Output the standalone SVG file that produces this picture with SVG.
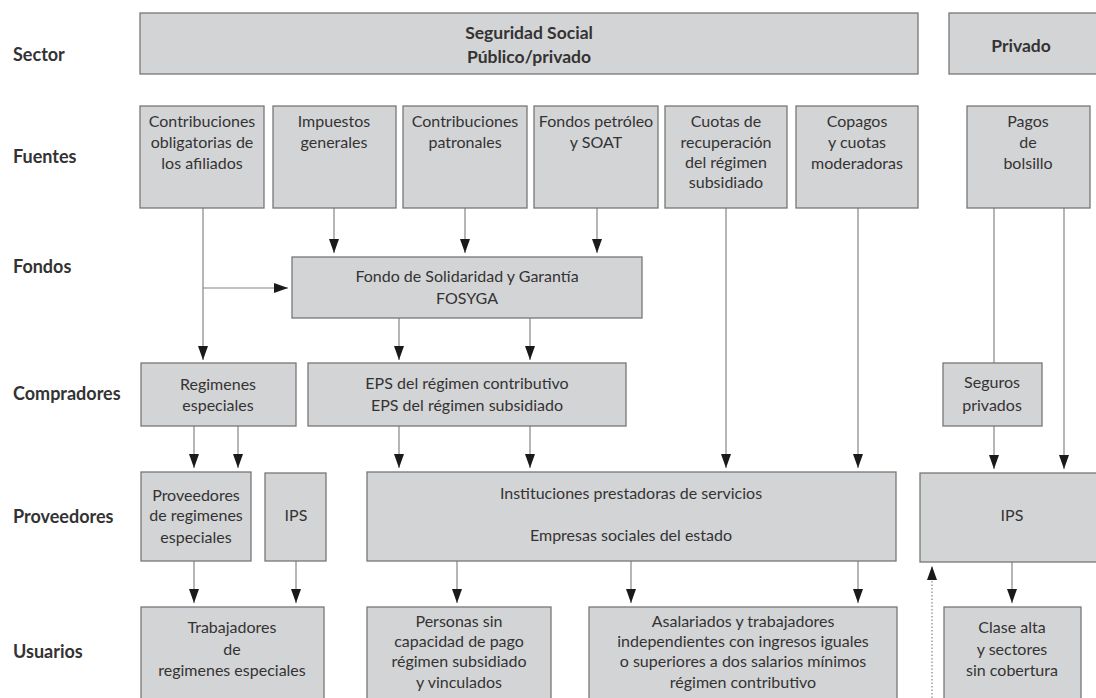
<svg xmlns="http://www.w3.org/2000/svg" width="1096" height="698" viewBox="0 0 1096 698">
<style>
.box{fill:#d3d4d6;stroke:#777777;stroke-width:1.3}
.t{font-family:Lato,"Open Sans","Liberation Sans",sans-serif;font-size:16px;fill:#333333;text-anchor:middle}
.h{font-family:Lato,"Open Sans","Liberation Sans",sans-serif;font-size:17.5px;font-weight:bold;fill:#333333;text-anchor:middle}
.lab{font-family:Lato,"Open Sans","Liberation Sans",sans-serif;font-size:18px;font-weight:bold;fill:#333333}
.c{stroke:#858585;stroke-width:1.2;fill:none}
.d{stroke:#858585;stroke-width:1.2;fill:none;stroke-dasharray:1.5 2}
</style>
<defs>
<marker id="ah" viewBox="0 0 14 10" refX="14" refY="5" markerWidth="14" markerHeight="10" markerUnits="userSpaceOnUse" orient="auto">
<path d="M0,0 L14,5 L0,10 z" fill="#1a1a1a"/>
</marker>
</defs>
<rect width="1096" height="698" fill="#ffffff"/>

<g id="row-labels">
<text class="lab" x="13" y="61">Sector</text>
<text class="lab" x="13" y="163">Fuentes</text>
<text class="lab" x="13" y="273">Fondos</text>
<text class="lab" x="13" y="400">Compradores</text>
<text class="lab" x="13" y="523">Proveedores</text>
<text class="lab" x="13" y="658">Usuarios</text>
</g>

<g id="connectors">
<line class="c" x1="203" y1="208" x2="203" y2="360" marker-end="url(#ah)"/>
<line class="c" x1="203" y1="288" x2="288" y2="288" marker-end="url(#ah)"/>
<line class="c" x1="334" y1="208" x2="334" y2="253" marker-end="url(#ah)"/>
<line class="c" x1="465" y1="208" x2="465" y2="253" marker-end="url(#ah)"/>
<line class="c" x1="597" y1="208" x2="597" y2="253" marker-end="url(#ah)"/>
<line class="c" x1="399" y1="318" x2="399" y2="360" marker-end="url(#ah)"/>
<line class="c" x1="530" y1="318" x2="530" y2="360" marker-end="url(#ah)"/>
<line class="c" x1="726" y1="208" x2="726" y2="468" marker-end="url(#ah)"/>
<line class="c" x1="858" y1="208" x2="858" y2="468" marker-end="url(#ah)"/>
<line class="c" x1="994" y1="208" x2="994" y2="363"/>
<line class="c" x1="994" y1="426" x2="994" y2="469" marker-end="url(#ah)"/>
<line class="c" x1="1064" y1="208" x2="1064" y2="469" marker-end="url(#ah)"/>
<line class="c" x1="194" y1="426" x2="194" y2="468" marker-end="url(#ah)"/>
<line class="c" x1="238" y1="426" x2="238" y2="468" marker-end="url(#ah)"/>
<line class="c" x1="399" y1="426" x2="399" y2="468" marker-end="url(#ah)"/>
<line class="c" x1="530" y1="426" x2="530" y2="468" marker-end="url(#ah)"/>
<line class="c" x1="194" y1="561" x2="194" y2="603" marker-end="url(#ah)"/>
<line class="c" x1="296" y1="561" x2="296" y2="603" marker-end="url(#ah)"/>
<line class="c" x1="457" y1="561" x2="457" y2="603" marker-end="url(#ah)"/>
<line class="c" x1="631" y1="561" x2="631" y2="603" marker-end="url(#ah)"/>
<line class="c" x1="858" y1="561" x2="858" y2="603" marker-end="url(#ah)"/>
<line class="c" x1="1012" y1="562" x2="1012" y2="603" marker-end="url(#ah)"/>
<line class="d" x1="932" y1="698" x2="932" y2="566" marker-end="url(#ah)"/>
</g>

<g id="sector-publico">
<rect class="box" x="140" y="13" width="778" height="61"/>
<text class="h" x="529" y="39">Seguridad Social</text>
<text class="h" x="529" y="63">Público/privado</text>
</g>
<g id="sector-privado">
<rect class="box" x="949" y="13" width="160" height="61"/>
<text class="h" x="1021" y="52">Privado</text>
</g>

<g id="f-contribuciones-obligatorias">
<rect class="box" x="140" y="106" width="124" height="102"/>
<text class="t" x="202" y="127">Contribuciones</text>
<text class="t" x="202" y="148">obligatorias de</text>
<text class="t" x="202" y="169">los afiliados</text>
</g>
<g id="f-impuestos">
<rect class="box" x="273" y="106" width="123" height="102"/>
<text class="t" x="334" y="127">Impuestos</text>
<text class="t" x="334" y="148">generales</text>
</g>
<g id="f-contribuciones-patronales">
<rect class="box" x="403" y="106" width="124" height="102"/>
<text class="t" x="465" y="127">Contribuciones</text>
<text class="t" x="465" y="148">patronales</text>
</g>
<g id="f-fondos-petroleo">
<rect class="box" x="534" y="106" width="124" height="102"/>
<text class="t" x="596" y="127">Fondos petróleo</text>
<text class="t" x="596" y="148">y SOAT</text>
</g>
<g id="f-cuotas">
<rect class="box" x="665" y="106" width="122" height="102"/>
<text class="t" x="726" y="127">Cuotas de</text>
<text class="t" x="726" y="148">recuperación</text>
<text class="t" x="726" y="168">del régimen</text>
<text class="t" x="726" y="188">subsidiado</text>
</g>
<g id="f-copagos">
<rect class="box" x="796" y="106" width="122" height="102"/>
<text class="t" x="857" y="127">Copagos</text>
<text class="t" x="857" y="148">y cuotas</text>
<text class="t" x="857" y="169">moderadoras</text>
</g>
<g id="f-pagos-bolsillo">
<rect class="box" x="967" y="106" width="123" height="102"/>
<text class="t" x="1028" y="127">Pagos</text>
<text class="t" x="1028" y="148">de</text>
<text class="t" x="1028" y="169">bolsillo</text>
</g>

<g id="fosyga">
<rect class="box" x="292" y="257" width="350" height="61"/>
<text class="t" x="467" y="282">Fondo de Solidaridad y Garantía</text>
<text class="t" x="467" y="304">FOSYGA</text>
</g>

<g id="c-regimenes-especiales">
<rect class="box" x="141" y="363" width="155" height="63"/>
<text class="t" x="218" y="390">Regimenes</text>
<text class="t" x="218" y="411">especiales</text>
</g>
<g id="c-eps">
<rect class="box" x="308" y="363" width="318" height="63"/>
<text class="t" x="467" y="389">EPS del régimen contributivo</text>
<text class="t" x="467" y="411">EPS del régimen subsidiado</text>
</g>
<g id="c-seguros-privados">
<rect class="box" x="943" y="363" width="99" height="63"/>
<text class="t" x="992" y="388">Seguros</text>
<text class="t" x="992" y="411">privados</text>
</g>

<g id="p-proveedores-regimenes">
<rect class="box" x="141" y="472" width="110" height="89"/>
<text class="t" x="196" y="501">Proveedores</text>
<text class="t" x="196" y="521">de regimenes</text>
<text class="t" x="196" y="543">especiales</text>
</g>
<g id="p-ips">
<rect class="box" x="265" y="473" width="61" height="88"/>
<text class="t" x="296" y="521">IPS</text>
</g>
<g id="p-instituciones">
<rect class="box" x="367" y="472" width="529" height="89"/>
<text class="t" x="631" y="499">Instituciones prestadoras de servicios</text>
<text class="t" x="631" y="541">Empresas sociales del estado</text>
</g>
<g id="p-ips-privado">
<rect class="box" x="920" y="473" width="190" height="89"/>
<text class="t" x="1012" y="521">IPS</text>
</g>

<g id="u-trabajadores">
<rect class="box" x="141" y="607" width="183" height="92"/>
<text class="t" x="232" y="633">Trabajadores</text>
<text class="t" x="232" y="655">de</text>
<text class="t" x="232" y="676">regimenes especiales</text>
</g>
<g id="u-personas">
<rect class="box" x="367" y="607" width="184" height="92"/>
<text class="t" x="459" y="627">Personas sin</text>
<text class="t" x="459" y="647">capacidad de pago</text>
<text class="t" x="459" y="667">régimen subsidiado</text>
<text class="t" x="459" y="688">y vinculados</text>
</g>
<g id="u-asalariados">
<rect class="box" x="589" y="607" width="308" height="92"/>
<text class="t" x="743" y="627">Asalariados y trabajadores</text>
<text class="t" x="743" y="647">independientes con ingresos iguales</text>
<text class="t" x="743" y="667">o superiores a dos salarios mínimos</text>
<text class="t" x="743" y="688">régimen contributivo</text>
</g>
<g id="u-clase-alta">
<rect class="box" x="944" y="607" width="137" height="92"/>
<text class="t" x="1012" y="633">Clase alta</text>
<text class="t" x="1012" y="655">y sectores</text>
<text class="t" x="1012" y="676">sin cobertura</text>
</g>
</svg>
